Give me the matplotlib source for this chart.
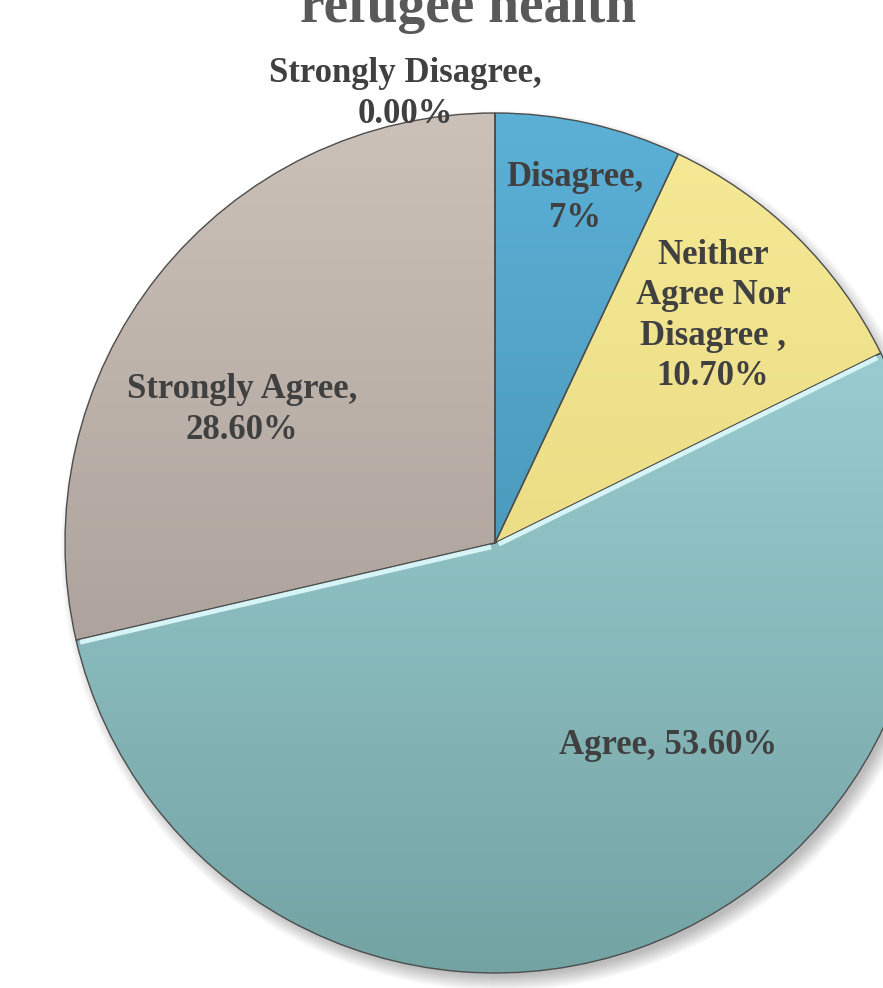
import numpy as np
import matplotlib
matplotlib.use("Agg")
import matplotlib.pyplot as plt
from matplotlib.colors import LinearSegmentedColormap
from matplotlib.patches import Circle

# Survey responses: "refugee health"
categories = ["Strongly Disagree", "Disagree", "Neither\nAgree Nor\nDisagree ", "Agree", "Strongly Agree"]
values = [0.0, 7.0, 10.7, 53.6, 28.6]
value_labels = ["0.00%", "7%", "10.70%", "53.60%", "28.60%"]

# top / bottom shades of each slice
top_colors = ["#d9d0c8", "#5cb0d6", "#f6ea96", "#a8dce1", "#cbc1b8"]
bottom_colors = ["#a79d97", "#3a85a3", "#e2d077", "#74a3a4", "#9b918c"]

W, H = 883, 988
fig = plt.figure(figsize=(W / 100, H / 100), dpi=100)
ax = fig.add_axes([0, 0, 1, 1])

cx, cy, R = 495, H - 543, 430

# soft drop shadow
for i in range(14):
    ax.add_patch(Circle((cx + 6, cy - 8), R + 10 - i * 1.2, color="black",
                        alpha=0.018, lw=0, zorder=0))

wedges, _ = ax.pie(values, startangle=90, counterclock=False, center=(cx, cy),
                   radius=R, frame=True,
                   wedgeprops=dict(edgecolor="#4d4d4d", linewidth=1.0))

grad = np.linspace(0, 1, 256).reshape(-1, 1)
for w, ct, cb in zip(wedges, top_colors, bottom_colors):
    cmap = LinearSegmentedColormap.from_list("g", [ct, cb])
    w.set_facecolor("none")
    im = ax.imshow(grad, cmap=cmap, aspect="auto",
                   extent=[cx - R, cx + R, cy - R, cy + R], origin="upper",
                   zorder=1, interpolation="bilinear")
    im.set_clip_path(w)
    w.set_zorder(2)

# light bevel along the straight edges of the Agree slice
agree = wedges[3]
for ang in (agree.theta1, agree.theta2):
    a = np.deg2rad(ang)
    ax.plot([cx + 4 * np.cos(a), cx + (R - 4) * np.cos(a)],
            [cy - 3 + 4 * np.sin(a), cy - 3 + (R - 4) * np.sin(a)],
            color="#d6f3f5", lw=3.5, zorder=3, solid_capstyle="butt")

ax.set_xlim(0, W)
ax.set_ylim(0, H)
ax.set_aspect("equal")
ax.axis("off")

font = ["Liberation Serif", "DejaVu Serif"]
tc = "#404040"
fs = 25

def label(x, y, text):
    ax.text(x, H - y, text, ha="center", va="center", fontsize=fs,
            fontweight="bold", color=tc, family=font, linespacing=1.3, zorder=5)

label(405, 94, categories[0] + ",\n" + value_labels[0])
label(575, 198, categories[1] + ",\n" + value_labels[1])
label(713, 316, categories[2] + ",\n" + value_labels[2])
label(242, 410, categories[4] + ",\n" + value_labels[4])
label(668, 745, categories[3] + ", " + value_labels[3])

ax.text(468, H - 22, "refugee health", ha="center", va="baseline",
        fontsize=40, fontweight="bold", color="#595959", family=font, zorder=5)

fig.savefig("out.png", dpi=100)
